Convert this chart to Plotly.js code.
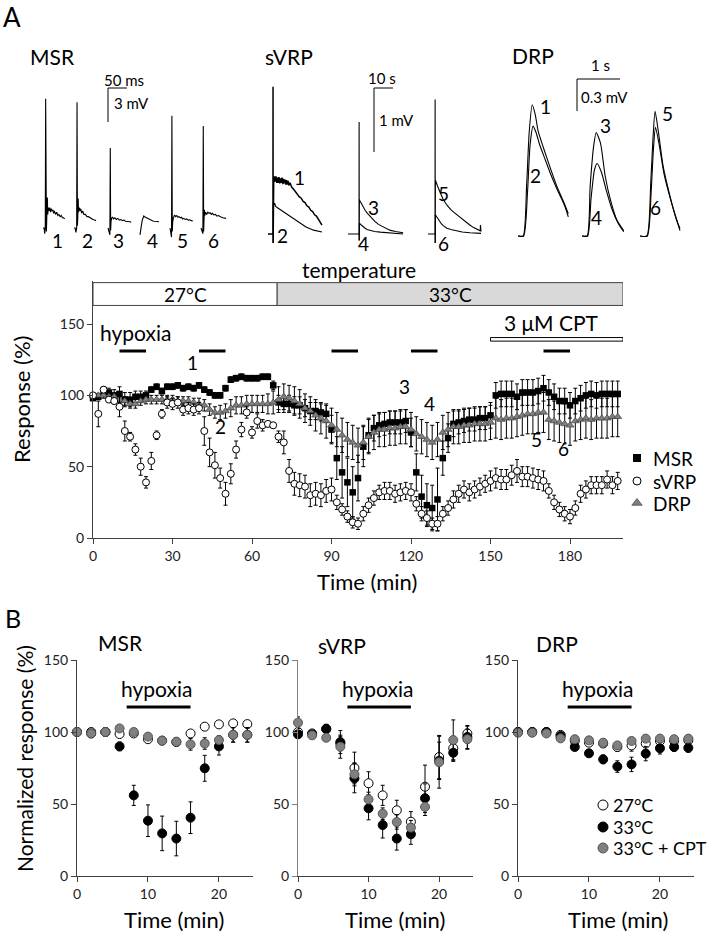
<!DOCTYPE html>
<html><head><meta charset="utf-8">
<script src="https://cdn.plot.ly/plotly-3.0.1.min.js"></script>
<style>html,body{margin:0;padding:0;background:#fff}#chart{width:709px;height:936px}</style>
</head><body><div id="chart"></div>
<script>
// ---------------- DATA ----------------
// Panel A, time course (min)
const tMain = [0,2,4,6,8,10,12,14,16,18,20,22,24,26,28,30,32,34,36,38,40,42,44,46,48,50,52,54,56,58,60,62,64,66,68,70,72,74,76,78,80,82,84,86,88,90,92,94,96,98,100,102,104,106,108,110,112,114,116,118,120,122,124,126,128,130,132,134,136,138,140,142,144,146,148,150,152,154,156,158,160,162,164,166,168,170,172,174,176,178,180,182,184,186,188,190,192,194,196,198];
const msrVals = [98,99,101,102,100,101,97,97,99,99, 100,104,106,103,106,106,107,105,106,105, 107,104,102,100,100,105,111,112,113,112, 112,112,113,113,107,95,94,94,93,93, 91,89,89,88,87,76,56,46,39,32, 42,64,72,77,79,80,81,81,81,82, 74,46,29,23,21,27,56,70,80,81, 82,83,83,84,84,86,100,101,101,101, 99,102,102,102,103,105,102,99,96,96, 93,96,98,100,101,100,101,101,101,101];
const msrErr = [0,2,3,3,4,5,5,5,4,4, 3,2,2,2,2,2,2,2,2,2, 2,2,2,2,2,2,2,2,2,2, 2,2,2,2,3,5,6,6,6,6, 6,6,6,6,6,10,15,18,17,18, 16,14,12,9,8,8,8,8,8,8, 10,13,15,15,16,22,12,10,9,8, 8,8,8,8,8,9,9,9,9,9, 9,9,9,9,9,9,9,9,9,9, 9,9,9,9,9,9,9,9,9,9];
const svrpVals = [100,87,104,97,96,92,75,71,62,50, 39,54,72,87,95,94,95,90,91,90, 91,75,60,51,42,31,45,62,76,88, 74,82,79,80,79,71,67,47,38,37, 36,30,31,30,33,34,25,20,15,11, 10,17,23,28,32,33,33,31,32,33, 32,24,17,14,10,10,17,21,27,31, 34,32,34,36,38,40,42,41,41,44, 47,43,43,42,41,40,33,25,20,17, 15,21,31,34,37,37,37,41,37,40];
const svrpErr = [0,9,2,2,2,7,7,3,4,6, 4,6,3,3,4,4,4,4,4,4, 4,10,10,9,7,8,7,6,5,4, 4,5,4,2,2,4,8,8,8,8, 8,8,8,8,8,8,5,4,4,4, 4,5,5,5,5,6,6,6,6,6, 6,5,5,5,4,5,5,5,6,6, 6,6,6,6,6,7,7,7,7,7, 8,7,7,7,7,7,5,5,5,5, 5,5,6,6,6,6,6,6,6,6];
const drpVals = [100,100,100,99,99,97,96,94,94,96, 97,97,97,97,97,97,96,96,96,95, 94,93,90,88,88,89,91,93,93,94, 94,94,94,94,95,97,99,98,96,94, 91,89,86,84,82,79,76,72,69,67, 65,67,71,74,76,76,77,77,78,78, 76,73,71,69,67,69,74,76,78,78, 79,79,80,80,80,81,84,83,84,84, 85,86,87,87,88,88,83,82,81,80, 79,82,83,84,83,84,84,84,85,85];
const drpErr = [0,1,1,2,2,2,3,3,3,3, 3,3,3,3,3,3,3,3,3,3, 4,4,4,4,5,5,6,6,6,6, 6,6,6,7,8,9,9,9,10,10, 10,10,11,11,12,12,12,12,12,12, 12,12,12,12,12,12,12,12,12,12, 12,12,12,12,12,12,12,12,12,12, 12,12,12,12,12,12,14,14,14,14, 14,14,14,14,14,14,14,14,14,14, 14,14,14,14,14,14,14,14,14,14];
const hypoxiaMain = [[10,20],[40,50],[90,100],[120,130],[170,180]];
const tempSegments = [{from:0,to:69.5,label:'27°C',fill:'#ffffff'},{from:69.5,to:200,label:'33°C',fill:'#d9d9d9'}];
const cptPeriod = [150,200];
const mainTicksX = [0,30,60,90,120,150,180];
const mainTicksY = [0,50,100,150];
const seriesNames = ['MSR','sVRP','DRP'];

// Panel B (min)
const tB = [0,2,4,6,8,10,12,14,16,18,20,22,24];
const hypoxiaB = [7,16];
const condNames = ['27°C','33°C','33°C + CPT'];
const bMSR = {
  c27:[100,100,100,98.6,99,95,94,93,99,103.7,105.3,106,105.5], e27:[0,1,1,2,2,1,1,1,1,1,1,1,1],
  c33:[100,99,100,90,56,38.4,29.6,26,40.5,74.8,90,98,98], e33:[0,1,1,3,7,11,12,12,11,9,6,5,5],
  cpt:[100,99,100,102.5,100,96.8,94,93.3,91.4,92,94.4,98,98], ecpt:[0,1,1,1,2,1,1,1,4,4,3,5,5]};
const bSVRP = {
  c27:[100,99,102.3,92,75,64.4,56,45.6,37.7,62,82.6,88.7,99], e27:[2,2,3,5,11,8,7,7,7,15,15,8,5],
  c33:[98.4,98.4,102,93,67.8,47,35.4,26,29,54,80,85.6,96.5], e33:[2,2,3,8,10,8,9,8,7,10,13,6,8],
  cpt:[106.5,97.7,96,89.8,70.6,53.2,43.3,37.5,33.6,48,79,94.4,95], ecpt:[4,2,2,8,8,5,4,5,5,6,18,14,7]};
const bDRP = {
  c27:[100,100,100,98,93.8,92.6,92,89.6,90.7,92,93.8,93.8,94.2], e27:[0,1,1,1,2,1,2,3,4,2,2,2,2],
  c33:[100,100,100,97.2,89.6,85.2,81,76,77.5,85,88.7,89.6,89], e33:[0,1,1,1,2,2,3,4,5,5,4,3,3],
  cpt:[99.5,99.5,99,95.6,95,94.2,92.6,90.7,93.8,95.4,95.4,95,95.4], ecpt:[0,1,1,1,2,1,1,2,1,1,1,1,1]};

// Panel A example recordings: MSR (ms, mV)
const msr1T=[0,3,4.5,6,7,8,9,10,11.5,12.5,14,16,18,20,22,24,26,28,30,33,36,39,42,45,48,51,54,57];
const msr1V=[0,0,-0.5,0,11.4,0.5,-0.3,1.0,2.7,1.2,1.8,1.5,1.8,1.4,1.7,1.5,1.6,1.3,1.5,1.2,1.4,1.1,1.2,1.0,1.1,0.9,0.9,0.8];
const msr2T=[0,3,5,7,8,9,10,11,12,14,16,18,20,23,26,30,34,38,42,46,50,54,58];
const msr2V=[0,0,-0.4,0,11.1,0.2,1.0,2.6,1.4,1.8,1.5,1.7,1.3,1.5,1.2,1.2,1.0,1.0,0.9,0.8,0.75,0.7,0.65];
const msr3T=[0,3,5,6,7,8,10,12,15,18,22,26,30,34,38,42,46,50,54,58,61];
const msr3V=[0,-0.3,-0.6,7.06,-0.2,0.6,0.9,0.95,0.8,0.9,0.75,0.85,0.7,0.75,0.65,0.7,0.6,0.6,0.55,0.55,0.5];
const msr4T=[0,2,4,6,8,10,12,15,18,22,26,30,34,38,42,46,50];
const msr4V=[-0.6,-0.3,0.3,0.7,0.9,1.06,1.0,0.95,0.85,0.8,0.7,0.65,0.62,0.6,0.58,0.56,0.55];
const msr5T=[0,2,4,5,6,7,9,12,15,18,21,24,27,30,33,36,40,44,48,52,56,60];
const msr5V=[0,-0.3,-0.8,9.9,-0.3,0.5,0.9,1.15,1.0,1.1,0.95,1.0,0.9,0.95,0.8,0.85,0.75,0.8,0.7,0.72,0.65,0.62];
const msr6T=[0,3,5,6,7,8,9,10,12,15,18,21,24,27,30,34,38,42,46,50,54,58,62,66];
const msr6V=[0,-0.4,-0.5,9.0,-0.3,0.8,1.6,1.1,1.4,1.2,1.4,1.3,1.35,1.2,1.3,1.15,1.2,1.05,1.1,1.0,0.95,0.9,0.9,0.85];
// sVRP (s, mV)
const sv1T=[0,2.6,2.65,2.7,2.8,3.0,3.4,3.8,4.2,4.6,5.0,5.4,5.8,6.2,6.6,7.0,7.4,7.8,8.2,8.6,9.0,9.4,9.8,10.2,10.6,11.0,11.6,12.5,13.5,14.5,15.5,16.5,17.5,18.5,19.5,20.5,21.5,22.5,23.5,24.5,25.5,26.5,27.5,28.4];
const sv1V=[0,0,2.3,-0.14,0.9,0.8,0.9,0.82,0.9,0.8,0.88,0.8,0.89,0.79,0.87,0.8,0.88,0.78,0.86,0.79,0.85,0.77,0.84,0.77,0.83,0.76,0.8,0.73,0.70,0.66,0.63,0.58,0.56,0.51,0.49,0.44,0.42,0.37,0.35,0.3,0.28,0.23,0.2,0.14];
const sv2T=[2.7,2.8,3.0,3.5,4,5,6,8,10,12,14,17,20,24,28.4];
const sv2V=[-0.14,0.5,0.45,0.48,0.43,0.41,0.39,0.35,0.3,0.26,0.22,0.16,0.11,0.06,0.03];
const sv3T=[0,5.8,5.85,5.9,6.0,7,8,9,10,12,14,16,18,20,22,25,29];
const sv3V=[0,0,1.75,-0.1,0.53,0.48,0.42,0.37,0.33,0.26,0.2,0.15,0.12,0.09,0.06,0.04,0.02];
const sv4T=[5.9,6.0,7,8,9,10,12,14,17,20,24,29];
const sv4V=[-0.1,0.17,0.14,0.11,0.09,0.07,0.05,0.04,0.03,0.02,0.01,0.0];
const sv5T=[0,3.7,3.75,3.8,3.9,5,6,7,8,10,12,14,16,18,20,22,24,26,27.5,27.6,27.9];
const sv5V=[0,0,2.1,-0.14,0.84,0.75,0.67,0.6,0.54,0.45,0.38,0.33,0.28,0.23,0.18,0.14,0.1,0.07,0.05,0.14,0.04];
const sv6T=[3.8,3.9,5,6,7,8,10,12,15,18,22,27.9];
const sv6V=[-0.14,0.3,0.25,0.2,0.16,0.13,0.09,0.07,0.05,0.03,0.02,0.01];
// DRP (s, mV)
const drp1T=[0,0.12,0.2,0.26,0.33,0.4,0.47,0.59,0.74,0.9,1.05,1.17];
const drp1V=[0,0,0.47,0.97,1.23,1.14,0.98,0.83,0.65,0.47,0.33,0.21];
const drp2T=[0,0.13,0.22,0.28,0.35,0.42,0.5,0.62,0.77,0.93,1.08,1.17];
const drp2V=[0,0,0.4,0.85,1.03,0.97,0.86,0.73,0.57,0.42,0.29,0.18];
const drp3T=[0,0.12,0.19,0.27,0.33,0.43,0.54,0.66,0.81,0.97];
const drp3V=[0,0,0.47,0.84,0.97,0.87,0.56,0.34,0.15,0.05];
const drp4T=[0,0.13,0.21,0.29,0.35,0.45,0.57,0.69,0.84,0.97];
const drp4V=[0,0,0.35,0.62,0.68,0.6,0.42,0.26,0.12,0.04];
const drp5T=[0,0.16,0.25,0.3,0.35,0.43,0.54,0.7,0.85,0.93];
const drp5V=[0,0,0.5,0.9,1.17,0.97,0.65,0.37,0.15,0.07];
const drp6T=[0,0.17,0.26,0.31,0.36,0.44,0.56,0.72,0.87,0.93];
const drp6V=[0,0,0.42,0.8,1.02,0.87,0.58,0.33,0.13,0.05];

// ---------------- BUILD ----------------
const W=709,H=936;
const FONT='Lato, "Open Sans", sans-serif';
const data=[], shapes=[], ann=[];
function txt(x,y,text,size,o){ann.push(Object.assign({xref:'x5',yref:'y5',x:x,y:y,text:text,showarrow:false,font:{family:FONT,size:size,color:'#000'}},o||{}));}
const errBar=(a)=>({type:'data',array:a,visible:true,color:'#000',thickness:1,width:2});

// main panel series
data.push({x:tMain,y:msrVals,error_y:errBar(msrErr),mode:'markers',type:'scatter',xaxis:'x',yaxis:'y',cliponaxis:false,
  marker:{symbol:'square',size:6.5,color:'#000'}});
data.push({x:tMain,y:drpVals,error_y:errBar(drpErr),mode:'markers',type:'scatter',xaxis:'x',yaxis:'y',cliponaxis:false,
  marker:{symbol:'triangle-up',size:7,color:'#7f7f7f',line:{color:'#404040',width:0.7}}});
data.push({x:tMain,y:svrpVals,error_y:errBar(svrpErr),mode:'markers',type:'scatter',xaxis:'x',yaxis:'y',cliponaxis:false,
  marker:{symbol:'circle',size:7,color:'#fff',line:{color:'#000',width:1}}});

tempSegments.forEach(s=>{
  shapes.push({type:'rect',xref:'x',yref:'y',x0:s.from,x1:s.to,y0:163,y1:179,fillcolor:s.fill,line:{color:'#404040',width:1},layer:'above'});
  ann.push({xref:'x',yref:'y',x:(s.from+s.to)/2,y:171,text:s.label,showarrow:false,font:{family:FONT,size:19,color:'#000'}});
});
hypoxiaMain.forEach(h=>shapes.push({type:'line',xref:'x',yref:'y',x0:h[0],x1:h[1],y0:131,y1:131,line:{color:'#000',width:3}}));
shapes.push({type:'rect',xref:'x',yref:'y',x0:cptPeriod[0],x1:cptPeriod[1],y0:138,y1:140.5,fillcolor:'#fff',line:{color:'#000',width:1}});
ann.push({xref:'x',yref:'y',x:(cptPeriod[0]+cptPeriod[1])/2-2,y:151,text:'3 μM CPT',showarrow:false,font:{family:FONT,size:21,color:'#000'}});
ann.push({xref:'x',yref:'y',x:2,y:144,xanchor:'left',text:'hypoxia',showarrow:false,font:{family:FONT,size:21,color:'#000'}});
const numPos=[[37.7,123],[48,78],[117.7,106],[127,94.6],[167.5,68.7],[177.7,62.4]];
numPos.forEach((p,i)=>ann.push({xref:'x',yref:'y',x:p[0],y:p[1],text:String(i+1),showarrow:false,font:{family:FONT,size:19,color:'#000'}}));
txt(359,269,'temperature',21);
txt(21,400,'Response (%)',22,{textangle:-90});
txt(367,581,'Time (min)',22);

// main legend
const legY=[458,481,503];
data.push({x:[637],y:[legY[0]],xaxis:'x5',yaxis:'y5',mode:'markers',type:'scatter',marker:{symbol:'square',size:8,color:'#000'}});
data.push({x:[637],y:[legY[1]],xaxis:'x5',yaxis:'y5',mode:'markers',type:'scatter',marker:{symbol:'circle',size:8,color:'#fff',line:{color:'#000',width:1}}});
data.push({x:[637],y:[legY[2]],xaxis:'x5',yaxis:'y5',mode:'markers',type:'scatter',marker:{symbol:'triangle-up',size:9,color:'#7f7f7f',line:{color:'#404040',width:0.7}}});
seriesNames.forEach((n,i)=>txt(651,legY[i],n,19,{xanchor:'left'}));

// panel B
const bSets=[{d:bMSR,xa:'x2',ya:'y2',name:'MSR',tx:120,ty:642},{d:bSVRP,xa:'x3',ya:'y3',name:'sVRP',tx:342,ty:645},{d:bDRP,xa:'x4',ya:'y4',name:'DRP',tx:557,ty:643}];
const bStyles=[{k:'c27',e:'e27',c:'#fff',l:'#000'},{k:'c33',e:'e33',c:'#000',l:'#000'},{k:'cpt',e:'ecpt',c:'#808080',l:'#555'}];
bSets.forEach(s=>{
  bStyles.forEach(st=>{
    data.push({x:tB,y:s.d[st.k],error_y:errBar(s.d[st.e]),mode:'markers',type:'scatter',xaxis:s.xa,yaxis:s.ya,cliponaxis:false,
      marker:{symbol:'circle',size:9,color:st.c,line:{color:st.l,width:1}}});
  });
  shapes.push({type:'line',xref:s.xa,yref:s.ya,x0:hypoxiaB[0],x1:hypoxiaB[1],y0:117.4,y1:117.4,line:{color:'#000',width:3}});
  ann.push({xref:s.xa,yref:s.ya,x:(hypoxiaB[0]+hypoxiaB[1])/2-0.3,y:130.5,text:'hypoxia',showarrow:false,font:{family:FONT,size:21,color:'#000'}});
  txt(s.tx,s.ty,s.name,21);
});
txt(174,919,'Time (min)',22);
txt(395,919,'Time (min)',22);
txt(618,919,'Time (min)',22);
txt(24,759,'Normalized response (%)',21,{textangle:-90});
// B legend
const bLegY=[805,827,848];
bStyles.forEach((st,i)=>{
  data.push({x:[603],y:[bLegY[i]],xaxis:'x5',yaxis:'y5',mode:'markers',type:'scatter',marker:{symbol:'circle',size:10,color:st.c,line:{color:st.l,width:1}}});
  txt(611,bLegY[i],condNames[i],18,{xanchor:'left'});
});

// panel letters & recording group titles
txt(12,17,'A',26); txt(13,618,'B',25);
txt(52,56,'MSR',21); txt(289,56,'sVRP',21); txt(533,55,'DRP',21);

// recordings
function rec(tArr,vArr,x0,y0,sx,sy,w,shape){
  data.push({x:tArr.map(t=>x0+t*sx),y:vArr.map(v=>y0-v*sy),xaxis:'x5',yaxis:'y5',mode:'lines',type:'scatter',
    line:{color:'#000',width:w||1.1,shape:shape||'linear',smoothing:0.6}});
}
function scaleBar(x0,y0,lenX,lenY){
  data.push({x:[x0+lenX,x0,x0],y:[y0,y0,y0+lenY],xaxis:'x5',yaxis:'y5',mode:'lines',type:'scatter',line:{color:'#000',width:1}});
}
// MSR: 50 ms = 19 px, 3 mV = 34 px
const mSx=19/50, mSy=34/3, mBase=228;
rec(msr1T,msr1V,43,mBase,mSx,mSy); rec(msr2T,msr2V,74,mBase,mSx,mSy); rec(msr3T,msr3V,108,mBase,mSx,mSy);
rec(msr4T,msr4V,140,mBase,mSx,mSy); rec(msr5T,msr5V,170,mBase,mSx,mSy); rec(msr6T,msr6V,201,mBase,mSx,mSy);
scaleBar(108,88,50*mSx,3*mSy);
txt(124,80,'50 ms',15); txt(112,103,'3 mV',15,{xanchor:'left'});
[57,87,118,152,182,213].forEach((x,i)=>txt(x,240,String(i+1),19));
// sVRP: 10 s = 19 px, 1 mV = 64 px
const sSx=1.9, sSy=64, sBase=234;
rec(sv1T,sv1V,268,sBase,sSx,sSy,1.5); rec(sv2T,sv2V,268,sBase,sSx,sSy);
rec(sv3T,sv3V,348,sBase,sSx,sSy); rec(sv4T,sv4V,348,sBase,sSx,sSy);
rec(sv5T,sv5V,428,sBase,sSx,sSy); rec(sv6T,sv6V,428,sBase,sSx,sSy);
scaleBar(374,88,10*sSx,1*sSy);
txt(382,78,'10 s',15); txt(377,120,'1 mV',15,{xanchor:'left'});
[[299,177],[282,235],[373,207],[363,243],[443,193],[443,243]].forEach((p,i)=>txt(p[0],p[1],String(i+1),19));
// DRP: 1 s = 43 px, 0.3 mV = 32 px
const dSx=43, dSy=32/0.3, dBase=236;
rec(drp1T,drp1V,518,dBase,dSx,dSy,1.1,'spline'); rec(drp2T,drp2V,518,dBase,dSx,dSy,1.1,'spline');
rec(drp3T,drp3V,582,dBase,dSx,dSy,1.1,'spline'); rec(drp4T,drp4V,582,dBase,dSx,dSy,1.1,'spline');
rec(drp5T,drp5V,640,dBase,dSx,dSy,1.1,'spline'); rec(drp6T,drp6V,640,dBase,dSx,dSy,1.1,'spline');
scaleBar(577,79,1*dSx,0.3*dSy);
txt(600,65,'1 s',15); txt(579,97,'0.3 mV',15,{xanchor:'left'});
[[545,106],[535,175],[605,125],[596,217],[667,113],[655,207]].forEach((p,i)=>txt(p[0],p[1],String(i+1),19));

// ---------------- LAYOUT ----------------
const tf={family:FONT,size:14,color:'#222'};
function ax(domain,range,tickvals,anchor,lc){
  return {domain:domain,range:range,tickvals:tickvals,anchor:anchor,showline:true,linecolor:lc||'#404040',linewidth:1,
    ticks:'outside',ticklen:5,tickcolor:lc||'#404040',showgrid:false,zeroline:false,tickfont:tf,fixedrange:true};
}
const yB=[1-876/H,1-660/H];
const layout={
  width:W,height:H,margin:{l:0,r:0,t:0,b:0},paper_bgcolor:'#fff',plot_bgcolor:'rgba(0,0,0,0)',
  showlegend:false,hovermode:false,font:{family:FONT},
  xaxis:ax([93/W,623/W],[0,200],mainTicksX,'y'),
  yaxis:ax([1-538/H,1-281.2/H],[0,180],mainTicksY,'x'),
  xaxis2:ax([77/W,253/W],[0,24.8],[0,10,20],'y2'),
  yaxis2:ax(yB,[0,150],mainTicksY,'x2'),
  xaxis3:ax([298/W,473/W],[0,24.8],[0,10,20],'y3'),
  yaxis3:ax(yB,[0,150],mainTicksY,'x3','#808080'),
  xaxis4:ax([518/W,694/W],[0,24.8],[0,10,20],'y4'),
  yaxis4:ax(yB,[0,150],mainTicksY,'x4'),
  xaxis5:{domain:[0,1],range:[0,W],visible:false,anchor:'y5',fixedrange:true},
  yaxis5:{domain:[0,1],range:[H,0],visible:false,anchor:'x5',fixedrange:true},
  shapes:shapes,annotations:ann
};
layout.xaxis3.tickcolor='#404040';
Plotly.newPlot('chart',data,layout,{staticPlot:true,displayModeBar:false});
</script></body></html>
